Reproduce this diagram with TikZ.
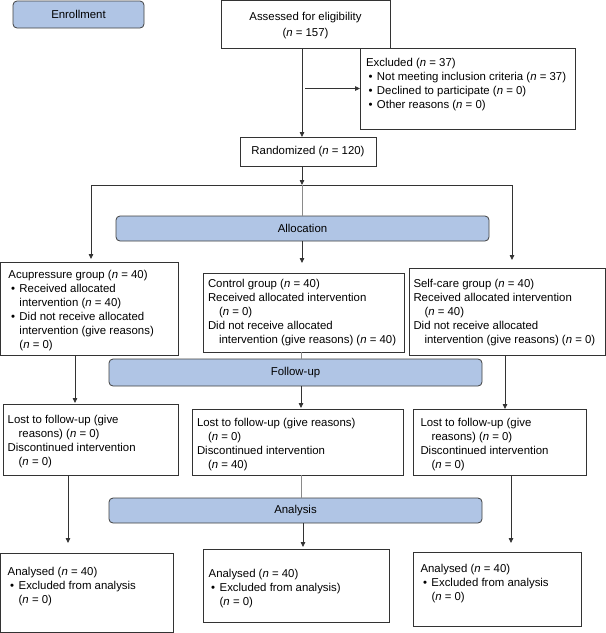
\documentclass[tikz,border=0pt]{standalone}
\usepackage{fontspec}
\setmainfont{Liberation Sans}
\usetikzlibrary{arrows.meta,calc}
\definecolor{bluef}{HTML}{B0C5E5}
\definecolor{blued}{HTML}{404040}
\definecolor{ln}{HTML}{333333}
\definecolor{lg}{HTML}{8A8A8A}
\newcommand\fs{\fontsize{11.4}{14.1}\selectfont}
\newcommand\bu{\hspace*{2.5pt}\makebox[8.5pt][l]{•}}
\newcommand\ci{\hspace*{11pt}}
\newcommand\nn{\textit{n}}
\newcommand\bx[7][box]{\node[#1,minimum width={#5-#3},minimum height={#6-#4}] (#2) at (#3,#4) {#7};}
\newcommand\tx[4]{\node[txt] (#1) at (#2,{#3-9.87}) {\strut #4};}
\begin{document}
\begin{tikzpicture}[x=1pt,y=-1pt,
  box/.style={draw=ln, line width=0.8pt, inner sep=0pt, outer sep=0pt, anchor=north west, fill=white, align=center, font=\fontsize{11.4}{16}\selectfont},
  phase/.style={box, draw=blued, fill=bluef, rounded corners=4pt},
  txt/.style={inner sep=0pt, outer sep=0pt, anchor=north west, align=left, font=\fs, text=black},
  arr/.style={draw=ln, line width=0.8pt, -{Triangle[length=5pt,width=4.5pt]}},
  con/.style={draw=lg, line width=0.8pt}]
\useasboundingbox (0,0) rectangle (606,633);
% boxes
\bx[phase]{enroll}{13}{1}{144}{28}{Enrollment}
\bx{assess}{221}{0.5}{390}{48}{\rule{0pt}{10pt}Assessed for eligibility\\(\nn{} = 157)}
\bx{excl}{360}{48}{575}{129}{}
\bx{rand}{240}{137}{376}{166}{Randomized (\nn{} = 120)}
\bx[phase]{alloc}{116}{216}{489}{241}{Allocation}
\bx{acu}{0.5}{262}{178}{355}{}
\bx{ctrl}{203}{273}{404}{352}{}
\bx{self}{409}{268}{605}{355}{}
\bx[phase]{fu}{109}{359}{482}{386}{Follow-up}
\bx{lostL}{3}{404}{178}{475}{}
\bx{lostM}{192}{409}{403}{475}{}
\bx{lostR}{413.5}{409}{586}{475}{}
\bx[phase]{an}{109}{498}{482}{523}{Analysis}
\bx{anaL}{0.5}{553}{173}{632.5}{}
\bx{anaM}{203}{549}{389}{622}{}
\bx{anaR}{413.5}{552}{581}{626}{}
% texts
\tx{texcl}{366}{66}{Excluded (\nn{} = 37)\\\bu Not meeting inclusion criteria (\nn{} = 37)\\\bu Declined to participate (\nn{} = 0)\\\bu Other reasons (\nn{} = 0)}
\tx{tacu}{8.5}{278}{Acupressure group (\nn{} = 40)\\\bu Received allocated\\\ci intervention (\nn{} = 40)\\\bu Did not receive allocated\\\ci intervention (give reasons)\\\ci (\nn{} = 0)}
\tx{tctrl}{208}{287}{Control group (\nn{} = 40)\\Received allocated intervention\\\ci (\nn{} = 0)\\Did not receive allocated\\\ci intervention (give reasons) (\nn{} = 40)}
\tx{tself}{413.5}{287}{Self-care group (\nn{} = 40)\\Received allocated intervention\\\ci (\nn{} = 40)\\Did not receive allocated\\\ci intervention (give reasons) (\nn{} = 0)}
\tx{tlostL}{7.7}{423}{Lost to follow-up (give\\\ci reasons) (\nn{} = 0)\\Discontinued intervention\\\ci (\nn{} = 0)}
\tx{tlostM}{197}{426}{Lost to follow-up (give reasons)\\\ci (\nn{} = 0)\\Discontinued intervention\\\ci (\nn{} = 40)}
\tx{tlostR}{420.5}{426}{Lost to follow-up (give\\\ci reasons) (\nn{} = 0)\\Discontinued intervention\\\ci (\nn{} = 0)}
\tx{tanaL}{7.7}{575}{Analysed (\nn{} = 40)\\\bu Excluded from analysis\\\ci (\nn{} = 0)}
\tx{tanaM}{208.7}{577}{Analysed (\nn{} = 40)\\\bu Excluded from analysis)\\\ci (\nn{} = 0)}
\tx{tanaR}{420.5}{572}{Analysed (\nn{} = 40)\\\bu Excluded from analysis\\\ci (\nn{} = 0)}
% connector coordinates
\coordinate (j) at (302,185);
\coordinate (jl) at (91,185);
\coordinate (jr) at (512,185);
\coordinate (hs) at (305,88.5);
\coordinate (cx) at (301,0);
\coordinate (cx2) at (303,0);
\coordinate (lx) at (75,0);
\coordinate (rx) at (505,0);
\coordinate (lx2) at (68,0);
\coordinate (rx2) at (511,0);
% connectors
\draw[arr] (assess.south -| j) -- (rand.north -| j);
\draw[arr] (hs) -- (excl.west);
\draw[arr] (rand.south -| j) -- (j);
\draw[ln, line width=0.8pt] (jl) -- (jr);
\draw[con] (j) -- (alloc.north -| j);
\draw[arr, shorten >=3pt] (jl) -- (acu.north -| jl);
\draw[arr, shorten >=8pt] (jr) -- (self.north -| jr);
\draw[arr, shorten >=10pt] (alloc.south -| j) -- (ctrl.north -| j);
\draw[arr, shorten >=1pt] (acu.south -| lx) -- (lostL.north -| lx);
\draw[con] (ctrl.south -| cx) -- (fu.north -| cx);
\draw[arr, shorten >=1pt] (fu.south -| cx) -- (lostM.north -| cx);
\draw[arr] (self.south -| rx) -- (lostR.north -| rx);
\draw[arr, shorten >=10pt] (lostL.south -| lx2) -- (anaL.north -| lx2);
\draw[con] (lostM.south -| cx) -- (an.north -| cx);
\draw[arr, shorten >=2pt] (an.south -| cx2) -- (anaM.north -| cx2);
\draw[arr, shorten >=9pt] (lostR.south -| rx2) -- (anaR.north -| rx2);
\end{tikzpicture}
\end{document}
